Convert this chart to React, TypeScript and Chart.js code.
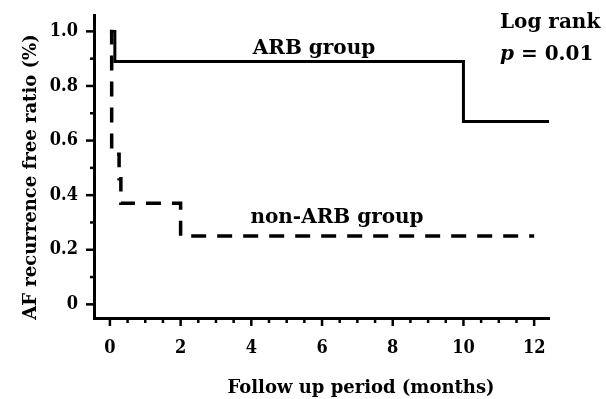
import React, { useEffect, useRef } from 'react';
import { Chart, registerables } from 'chart.js';

Chart.register(...registerables);

// ---- data ----
const arbMonths = [0, 0.14, 10, 12.42];
const arbRatio = [1.0, 0.89, 0.67, 0.67];
const nonArbMonths = [0, 0.05, 0.26, 0.31, 2.0, 12.0];
const nonArbRatio = [1.0, 0.55, 0.46, 0.37, 0.25, 0.25];

const xMajorTicks = [0, 2, 4, 6, 8, 10, 12];
const xMinorTicks = [0.5, 1, 1.5, 2.5, 3, 3.5, 4.5, 5, 5.5, 6.5, 7, 7.5, 8.5, 9, 9.5, 10.5, 11, 11.5];
const yMajorTicks = [0, 0.2, 0.4, 0.6, 0.8, 1.0];
const yMinorTicks = [0.1, 0.3, 0.5, 0.7, 0.9];

const xTitle = 'Follow up period (months)';
const yTitle = 'AF recurrence free ratio (%)';
const arbLabel = 'ARB group';
const nonArbLabel = 'non-ARB group';
const statLine1 = 'Log rank';
const statP = 'p';
const statLine2 = ' = 0.01';

const TICK_FONT = '"DejaVu Serif Condensed", "DejaVu Serif", serif';
const TEXT_FONT = '"DejaVu Serif", serif';

const overlay = {
  id: 'overlay',
  afterDraw(chart: any) {
    const { ctx, chartArea } = chart;
    const x = chart.scales.x;
    const y = chart.scales.y;
    ctx.save();
    ctx.strokeStyle = '#000';
    ctx.fillStyle = '#000';
    ctx.lineWidth = 2.5;
    const drawX = (v: number, len: number) => {
      const px = x.getPixelForValue(v);
      ctx.beginPath();
      ctx.moveTo(px, chartArea.bottom + 1);
      ctx.lineTo(px, chartArea.bottom + len);
      ctx.stroke();
    };
    const drawY = (v: number, len: number) => {
      const py = y.getPixelForValue(v);
      ctx.beginPath();
      ctx.moveTo(chartArea.left - 1, py);
      ctx.lineTo(chartArea.left - len, py);
      ctx.stroke();
    };
    xMajorTicks.forEach((v) => drawX(v, 8));
    xMinorTicks.forEach((v) => drawX(v, 5));
    yMajorTicks.forEach((v) => drawY(v, 8));
    yMinorTicks.forEach((v) => drawY(v, 4));

    // annotations
    ctx.textBaseline = 'alphabetic';
    ctx.textAlign = 'center';
    ctx.font = `bold 20px ${TEXT_FONT}`;
    ctx.fillText(arbLabel, 314, 54);
    ctx.fillText(nonArbLabel, 337, 223);
    ctx.textAlign = 'left';
    ctx.fillText(statLine1, 500, 28);
    ctx.font = `italic bold 20px ${TEXT_FONT}`;
    ctx.fillText(statP, 500, 60);
    const pw = ctx.measureText(statP).width;
    ctx.font = `bold 20px ${TEXT_FONT}`;
    ctx.fillText(statLine2, 500 + pw, 60);

    // axis titles
    ctx.font = `bold 18px ${TEXT_FONT}`;
    ctx.textAlign = 'center';
    ctx.textBaseline = 'alphabetic';
    ctx.fillText(xTitle, 361, 393);
    ctx.save();
    ctx.translate(36, 177);
    ctx.rotate(-Math.PI / 2);
    ctx.fillText(yTitle, 0, 0);
    ctx.restore();
    ctx.restore();
  },
};

export default function App() {
  const ref = useRef<HTMLCanvasElement>(null);
  useEffect(() => {
    if (!ref.current) return;
    const chart = new Chart(ref.current, {
      type: 'line',
      data: {
        datasets: [
          {
            label: arbLabel,
            data: arbMonths.map((m, i) => ({ x: m, y: arbRatio[i] })),
            stepped: 'before',
            borderColor: '#000',
            borderWidth: 3,
            pointRadius: 0,
            fill: false,
          },
          {
            label: nonArbLabel,
            data: nonArbMonths.map((m, i) => ({ x: m, y: nonArbRatio[i] })),
            stepped: 'before',
            borderColor: '#000',
            borderWidth: 3.5,
            borderDash: [15, 11],
            pointRadius: 0,
            fill: false,
          },
        ],
      },
      options: {
        animation: false,
        responsive: false,
        layout: { padding: { top: 15, right: 57, left: 0, bottom: 0 } },
        plugins: { legend: { display: false }, tooltip: { enabled: false } },
        scales: {
          x: {
            type: 'linear',
            min: -0.45,
            max: 12.42,
            afterBuildTicks: (s: any) => {
              s.ticks = xMajorTicks.map((v) => ({ value: v }));
            },
            afterFit: (s: any) => {
              s.height = 81;
              s.paddingLeft = 0;
              s.paddingRight = 0;
            },
            grid: { display: true, drawOnChartArea: false, drawTicks: false, color: 'rgba(0,0,0,0)' },
            border: { display: true, color: '#000', width: 3 },
            ticks: {
              padding: 20,
              color: '#000',
              font: { family: TICK_FONT, weight: 'bold', size: 18 },
              callback: (v: any) => String(v),
              maxRotation: 0,
              autoSkip: false,
            },
          },
          y: {
            type: 'linear',
            min: -0.05,
            max: 1.06,
            afterBuildTicks: (s: any) => {
              s.ticks = yMajorTicks.map((v) => ({ value: v }));
            },
            afterFit: (s: any) => {
              s.width = 94;
              s.paddingTop = 0;
              s.paddingBottom = 0;
            },
            grid: { display: true, drawOnChartArea: false, drawTicks: false, color: 'rgba(0,0,0,0)' },
            border: { display: true, color: '#000', width: 3 },
            ticks: {
              padding: 16,
              color: '#000',
              font: { family: TICK_FONT, weight: 'bold', size: 18 },
              callback: (v: any) => (v === 0 ? '0' : Number(v).toFixed(1)),
              autoSkip: false,
            },
          },
        },
      },
      plugins: [overlay],
    });
    return () => chart.destroy();
  }, []);
  return (
    <div style={{ position: 'absolute', left: 0, top: 0, width: 606, height: 399, background: '#fff' }}>
      <canvas ref={ref} width={606} height={399} style={{ display: 'block' }} />
    </div>
  );
}
